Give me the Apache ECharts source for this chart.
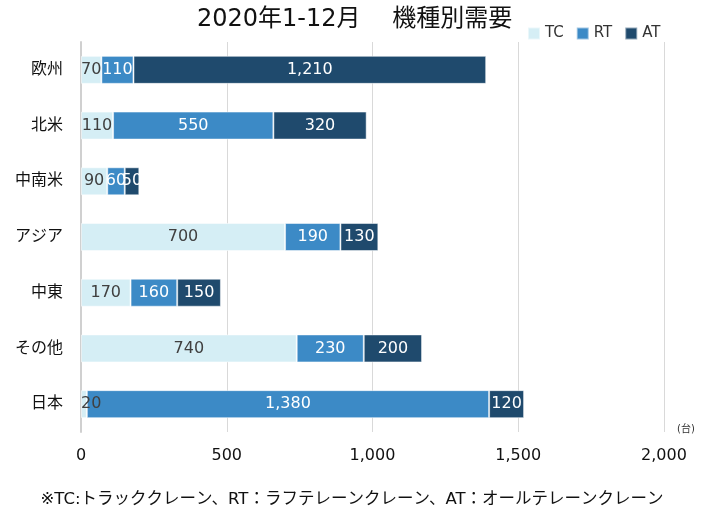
<!DOCTYPE html>
<html>
<head>
<meta charset="utf-8">
<script src="https://cdn.jsdelivr.net/npm/echarts@6/dist/echarts.min.js"></script>
<style>
  html, body { margin: 0; padding: 0; background: #fff; }
  #chart { width: 704px; height: 515px; }
</style>
</head>
<body>
<div id="chart"></div>
<script>
// 地域（上から順）
const regions = ['欧州', '北米', '中南米', 'アジア', '中東', 'その他', '日本'];
const tcValues = [70, 110, 90, 700, 170, 740, 20];
const rtValues = [110, 550, 60, 190, 160, 230, 1380];
const atValues = [1210, 320, 50, 130, 150, 200, 120];
const xTicks = [0, 500, 1000, 1500, 2000];

const font = '"DejaVu Sans", "Noto Sans CJK JP", sans-serif';

function seg(name, data, color, labelColor) {
  return {
    name: name,
    type: 'bar',
    stack: 'total',
    barWidth: 28,
    // 細いセグメントはラベルを左寄せ
    data: data.map(v => v < 50
      ? { value: v, label: { position: 'insideLeft', distance: 0 } }
      : v),
    itemStyle: { color: color, borderColor: 'rgba(255,255,255,0.5)', borderWidth: 1 },
    label: {
      show: true,
      position: 'inside',
      color: labelColor,
      fontSize: 16,
      fontFamily: font,
      formatter: p => p.value.toLocaleString('en-US')
    }
  };
}

document.addEventListener('DOMContentLoaded', function() {
  const chart = echarts.init(document.getElementById('chart'));
  chart.setOption({
    animation: false,
    textStyle: { fontFamily: font },
    title: {
      text: '2020年1-12月　 機種別需要',
      left: 192,
      top: 3,
      textStyle: { fontSize: 24, fontWeight: 'normal', color: '#111', fontFamily: font }
    },
    legend: {
      left: 522,
      top: 21,
      itemWidth: 12,
      itemHeight: 12,
      itemGap: 12,
      icon: 'rect',
      textStyle: { fontSize: 15, color: '#333', fontFamily: font },
      data: ['TC', 'RT', 'AT']
    },
    grid: { left: 81, right: 40, top: 42, bottom: 83 },
    xAxis: {
      type: 'value',
      min: 0,
      max: 2000,
      interval: 500,
      axisLine: { show: false },
      axisTick: { show: false },
      axisLabel: {
        color: '#111',
        fontSize: 16,
        margin: 16,
        customValues: xTicks,
        formatter: v => v.toLocaleString('en-US')
      },
      splitLine: { lineStyle: { color: '#d9d9d9', width: 1 } }
    },
    yAxis: {
      type: 'category',
      inverse: true,
      data: regions,
      axisLine: { show: true, lineStyle: { color: '#d0d0d0', width: 2 } },
      axisTick: { show: false },
      axisLabel: { color: '#111', fontSize: 16, margin: 18 }
    },
    graphic: [
      {
        type: 'text',
        left: 677,
        top: 424,
        style: { text: '(台)', fontSize: 10, fill: '#333', fontFamily: font }
      },
      {
        type: 'text',
        left: 'center',
        top: 491,
        style: { text: '※TC:トラッククレーン、RT：ラフテレーンクレーン、AT：オールテレーンクレーン', fontSize: 16.5, fill: '#111', fontFamily: font }
      }
    ],
    series: [
      seg('TC', tcValues, '#d5eef5', '#404040'),
      seg('RT', rtValues, '#3c8ac6', '#ffffff'),
      seg('AT', atValues, '#1f4a6d', '#ffffff')
    ]
  });
});
</script>
</body>
</html>
